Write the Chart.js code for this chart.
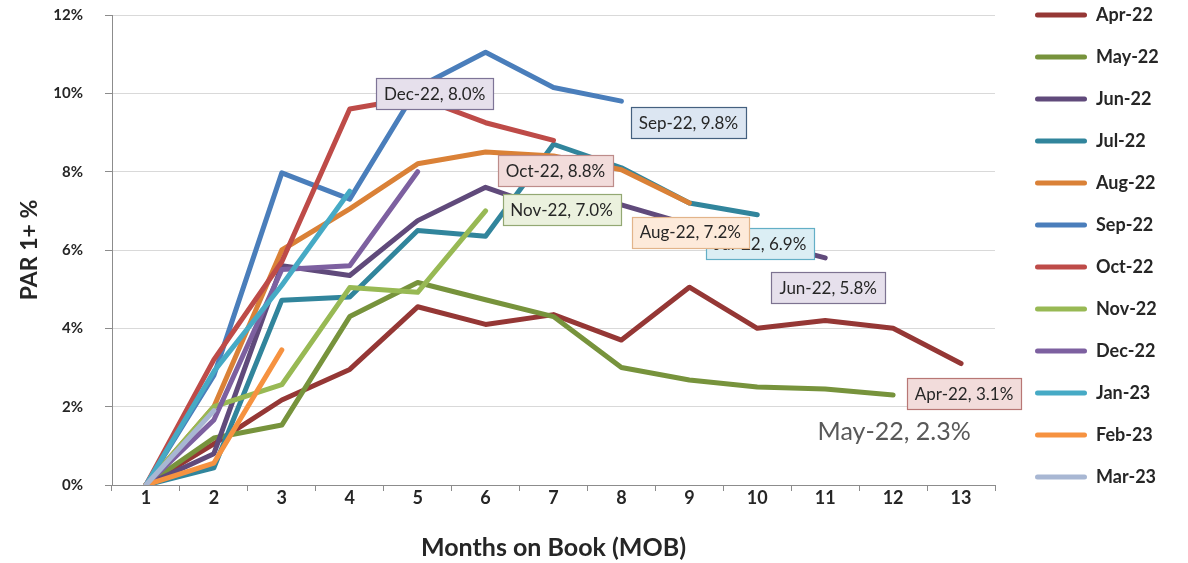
<!DOCTYPE html>
<html>
<head>
<meta charset="utf-8">
<script src="https://cdn.jsdelivr.net/npm/chart.js@4.4.1/dist/chart.umd.min.js"></script>
<style>
  html, body { margin: 0; padding: 0; background: #ffffff; }
  #wrap { width: 1188px; height: 563px; }
</style>
</head>
<body>
<div id="wrap"><canvas id="parChart" width="1188" height="563"></canvas></div>
<script>
// Months on book (x categories)
const mobLabels = ['1', '2', '3', '4', '5', '6', '7', '8', '9', '10', '11', '12', '13'];

// PAR 1+ % by vintage, one value per month on book
const apr22 = [0, 1.05, 2.17, 2.95, 4.55, 4.1, 4.35, 3.7, 5.05, 4.0, 4.2, 4.0, 3.1];
const may22 = [0, 1.2, 1.53, 4.3, 5.17, 4.73, 4.3, 3.0, 2.68, 2.5, 2.45, 2.3];
const jun22 = [0, 0.8, 5.6, 5.35, 6.75, 7.6, 7.0, 7.15, 6.65, 6.25, 5.8];
const jul22 = [0, 0.44, 4.72, 4.8, 6.5, 6.35, 8.7, 8.1, 7.2, 6.9];
const aug22 = [0, 2.0, 6.0, 7.05, 8.2, 8.5, 8.4, 8.05, 7.2];
const sep22 = [0, 2.8, 7.97, 7.3, 10.15, 11.05, 10.15, 9.8];
const oct22 = [0, 3.2, 5.7, 9.6, 9.9, 9.25, 8.8];
const nov22 = [0, 2.0, 2.56, 5.04, 4.92, 7.0];
const dec22 = [0, 1.66, 5.5, 5.6, 8.0];
const jan23 = [0, 2.9, 5.1, 7.5];
const feb23 = [0, 0.56, 3.45];
const mar23 = [0, 1.9];

// Y axis tick values (percent)
const yTicks = [0, 2, 4, 6, 8, 10, 12];

const FONT = 'Lato, "Open Sans", sans-serif';

const vintages = [
  { name: 'Apr-22', values: apr22, color: '#953735' },
  { name: 'May-22', values: may22, color: '#77933C' },
  { name: 'Jun-22', values: jun22, color: '#604A7B' },
  { name: 'Jul-22', values: jul22, color: '#31859C' },
  { name: 'Aug-22', values: aug22, color: '#DA8137' },
  { name: 'Sep-22', values: sep22, color: '#4A7EBB' },
  { name: 'Oct-22', values: oct22, color: '#BE4B48' },
  { name: 'Nov-22', values: nov22, color: '#98B954' },
  { name: 'Dec-22', values: dec22, color: '#7D60A0' },
  { name: 'Jan-23', values: jan23, color: '#46AAC5' },
  { name: 'Feb-23', values: feb23, color: '#F69240' },
  { name: 'Mar-23', values: mar23, color: '#A8B7D3' }
];

// Callout tags at the last point of each vintage (offsets in px from that point)
const endTags = [
  { name: 'Apr-22', dx: 3,  dy: 30,  fill: '#F2DCDB', edge: '#B87775' },
  { name: 'May-22', dx: 1,  dy: 37,  plain: true },
  { name: 'Jun-22', dx: 3,  dy: 30,  fill: '#E6E0EC', edge: '#7D7391' },
  { name: 'Jul-22', dx: 3,  dy: 29,  fill: '#DBEEF4', edge: '#63AFC6' },
  { name: 'Aug-22', dx: 1,  dy: 29,  fill: '#FDEADA', edge: '#E2B48A' },
  { name: 'Sep-22', dx: 67, dy: 21,  fill: '#DCE6F2', edge: '#44607F' },
  { name: 'Oct-22', dx: 2,  dy: 30,  fill: '#F2DCDB', edge: '#BD8C8A' },
  { name: 'Nov-22', dx: 76, dy: -1,  fill: '#EBF1DE', edge: '#93A873' },
  { name: 'Dec-22', dx: 17, dy: -78, fill: '#E6E0EC', edge: '#7E7497' }
];

const endTagPlugin = {
  id: 'endTags',
  afterDatasetsDraw(chart) {
    const ctx = chart.ctx;
    ctx.save();
    endTags.forEach(tag => {
      const idx = vintages.findIndex(v => v.name === tag.name);
      const meta = chart.getDatasetMeta(idx);
      const values = vintages[idx].values;
      const pt = meta.data[values.length - 1];
      const text = tag.name + ', ' + values[values.length - 1].toFixed(1) + '%';
      const cx = pt.x + tag.dx;
      const cy = pt.y + tag.dy;
      ctx.textAlign = 'center';
      ctx.textBaseline = 'middle';
      if (tag.plain) {
        ctx.font = '25px ' + FONT;
        ctx.fillStyle = '#595959';
        ctx.fillText(text, cx, cy);
        return;
      }
      ctx.font = '17px ' + FONT;
      const w = Math.round(ctx.measureText(text).width + 16);
      const h = 31;
      const x0 = Math.round(cx - w / 2) + 0.5;
      const y0 = Math.round(cy - h / 2) + 0.5;
      ctx.fillStyle = tag.fill;
      ctx.fillRect(x0, y0, w, h);
      ctx.strokeStyle = tag.edge;
      ctx.lineWidth = 1.2;
      ctx.strokeRect(x0, y0, w, h);
      ctx.fillStyle = '#262626';
      ctx.fillText(text, cx, cy + 1);
    });
    ctx.restore();
  }
};

// Place the legend column to the right of the plot, first row level with the top gridline
const legendPlacement = {
  id: 'legendPlacement',
  afterLayout(chart) {
    const lg = chart.legend;
    if (!lg) return;
    const left = chart.chartArea.right + 16;
    const top = chart.chartArea.top - 33;
    const h = lg.height;
    lg.left = left; lg.right = chart.width; lg.width = lg.right - lg.left;
    lg.top = top; lg.bottom = top + h;
  }
};

const datasets = vintages.map((v, i) => ({
  label: v.name,
  data: v.values,
  borderColor: v.color,
  backgroundColor: v.color,
  borderWidth: 5,
  pointRadius: 0,
  pointHoverRadius: 0,
  tension: 0,
  fill: false,
  borderCapStyle: 'round',
  borderJoinStyle: 'round',
  order: -i
}));

new Chart(document.getElementById('parChart'), {
  type: 'line',
  data: { labels: mobLabels, datasets },
  options: {
    responsive: false,
    animation: false,
    devicePixelRatio: 1,
    layout: { padding: { top: 15, right: 93, bottom: 0, left: 0 } },
    plugins: {
      tooltip: { enabled: false },
      legend: {
        position: 'right',
        align: 'start',
        maxWidth: 100,
        labels: {
          boxWidth: 52,
          boxHeight: 5,
          padding: 24,
          useBorderRadius: true,
          borderRadius: 2.5,
          color: '#262626',
          font: { family: FONT, size: 18, weight: 'bold' },
          sort: (a, b) => a.datasetIndex - b.datasetIndex,
          generateLabels: chart =>
            Chart.defaults.plugins.legend.labels.generateLabels(chart).map(item => ({
              ...item,
              fillStyle: item.strokeStyle,
              lineWidth: 0,
              borderRadius: 2.5
            }))
        }
      }
    },
    scales: {
      x: {
        offset: true,
        grid: {
          offset: true,
          drawOnChartArea: false,
          drawTicks: true,
          tickLength: 6,
          color: '#8C8C8C',
          tickColor: '#8C8C8C'
        },
        border: { color: '#8C8C8C', width: 1 },
        ticks: {
          color: '#262626',
          padding: -4,
          maxRotation: 0,
          font: { family: FONT, size: 18, weight: 'bold' }
        },
        title: {
          display: true,
          text: 'Months on Book (MOB)',
          color: '#262626',
          font: { family: FONT, size: 25, weight: 'bold' },
          padding: { top: 0, bottom: 0 }
        },
        afterFit: scale => {
          scale.height = 78;
          scale.paddingLeft = 0;
          scale.paddingRight = 0;
        }
      },
      y: {
        min: 0,
        max: 12,
        afterBuildTicks: scale => { scale.ticks = yTicks.map(v => ({ value: v })); },
        grid: {
          color: '#D9D9D9',
          tickColor: '#8C8C8C',
          tickLength: 7,
          lineWidth: 1
        },
        border: { color: '#8C8C8C', width: 1 },
        ticks: {
          color: '#262626',
          padding: 22,
          font: { family: FONT, size: 15, weight: 'bold' },
          callback: v => v + '%'
        },
        title: {
          display: true,
          text: 'PAR 1+ %',
          color: '#262626',
          font: { family: FONT, size: 23, weight: 'bold' },
          padding: { top: 16, bottom: 0 }
        },
        afterFit: scale => {
          scale.width = 112;
          scale.paddingTop = 0;
          scale.paddingBottom = 0;
        }
      }
    }
  },
  plugins: [endTagPlugin, legendPlacement]
});
</script>
</body>
</html>
